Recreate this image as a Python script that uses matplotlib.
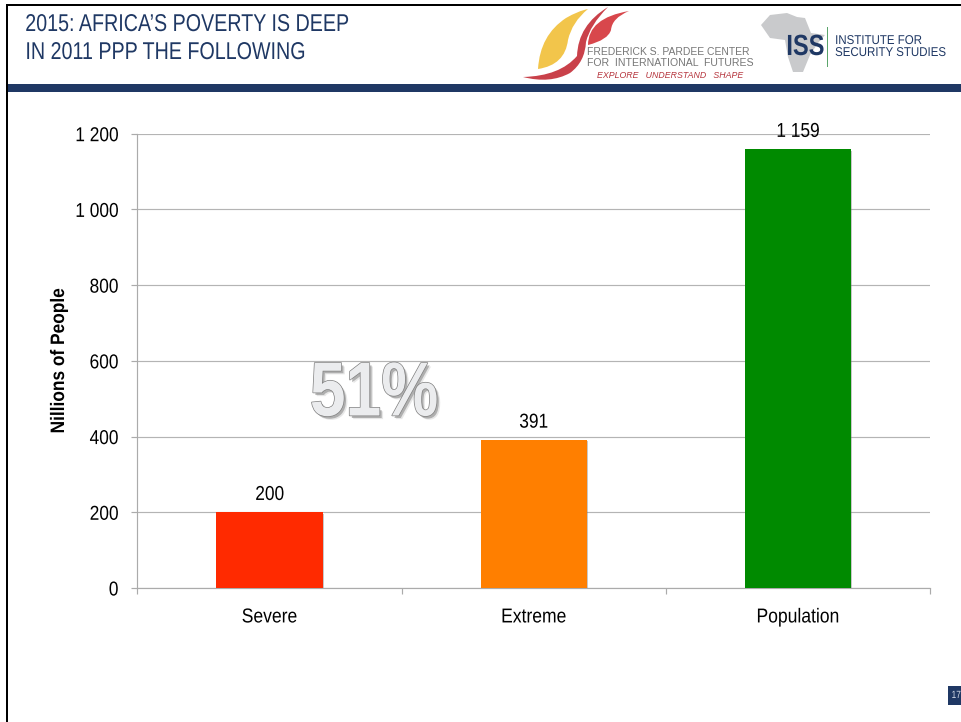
import matplotlib
matplotlib.use("Agg")
import matplotlib.pyplot as plt
import matplotlib.patheffects as pe
from matplotlib.path import Path
from matplotlib.patches import PathPatch, Polygon, Rectangle
from matplotlib.transforms import Affine2D

categories = ["Severe", "Extreme", "Population"]
values = [200, 391, 1159]
value_labels = ["200", "391", "1 159"]
bar_colors = ["#FF2A00", "#FF7F00", "#008A00"]
y_ticks = [0, 200, 400, 600, 800, 1000, 1200]
y_tick_labels = ["0", "200", "400", "600", "800", "1 000", "1 200"]

W, H = 962, 722
NAVY = "#1F3864"
SANS = ["Liberation Sans", "DejaVu Sans"]


class Condensed(pe.AbstractPathEffect):
    """Narrow a text's outline around its left, centre or right edge, along x or y."""

    def __init__(self, factor, align="center", inner=None, vertical=False):
        super().__init__()
        self.factor = factor
        self.align = align
        self.inner = inner or [pe.Normal()]
        self.vertical = vertical

    def draw_path(self, renderer, gc, tpath, affine, rgbFace=None):
        box = tpath.get_extents(affine)
        if self.vertical:
            anchor = (box.y0 + box.y1) / 2
            squeeze = Affine2D().translate(0, -anchor).scale(1, self.factor).translate(0, anchor)
        else:
            anchor = {"left": box.x0, "center": (box.x0 + box.x1) / 2, "right": box.x1}[self.align]
            squeeze = Affine2D().translate(-anchor, 0).scale(self.factor, 1).translate(anchor, 0)
        narrowed = affine + squeeze
        for effect in self.inner:
            effect.draw_path(renderer, gc, tpath, narrowed, rgbFace)


fig = plt.figure(figsize=(W / 100, H / 100), dpi=100, facecolor="white")

# Slide furniture, laid out in pixel units
slide = fig.add_axes([0, 0, 1, 1], zorder=0)
slide.set_xlim(0, W)
slide.set_ylim(H, 0)
slide.axis("off")

slide.add_patch(Rectangle((6, 4), W - 6, 2, fc="black", ec="none"))
slide.add_patch(Rectangle((6, 4), 2, H - 4, fc="black", ec="none"))
slide.add_patch(Rectangle((8, 84), W - 8, 8, fc=NAVY, ec="none"))

for y, line in [(25, "2015: AFRICA\u2019S POVERTY IS DEEP"), (53, "IN 2011 PPP THE FOLLOWING")]:
    slide.text(25, y, line, family=SANS, fontsize=17.5, color=NAVY, va="center", ha="left",
               path_effects=[Condensed(0.81, "left")])


# Pardee Center emblem
def leaf(points, color):
    codes = [Path.MOVETO] + [Path.CURVE3] * (len(points) - 1)
    slide.add_patch(PathPatch(Path(points, codes), fc=color, ec="none"))


leaf([(538, 69), (540, 35), (566, 18), (578, 11), (588, 9), (572, 22), (568, 40),
     (565, 65), (538, 69)], "#F2C54B")
leaf([(523, 77), (560, 76), (577, 56), (578, 25), (608, 7), (590, 25), (586, 42),
     (585, 62), (570, 73), (550, 84), (523, 77)], "#C9414A")
leaf([(588, 45), (588, 18), (629, 11), (612, 18), (611, 30), (608, 40), (588, 45)], "#D8474C")

slide.text(587, 52, "FREDERICK S. PARDEE CENTER", family=SANS, fontsize=7.5,
           color="#777777", va="center", ha="left")
slide.text(587, 63, "FOR  INTERNATIONAL  FUTURES", family=SANS, fontsize=7.6,
           color="#777777", va="center", ha="left")
slide.text(597, 76, "EXPLORE   UNDERSTAND   SHAPE", family=SANS, fontsize=6.3,
           style="italic", color="#B5333B", va="center", ha="left")

# ISS emblem
slide.add_patch(Polygon([(761, 25), (770, 15), (787, 13), (797, 17), (805, 18),
                         (811, 33), (825, 35), (818, 43), (810, 55), (803, 72),
                         (793, 72), (788, 57), (785, 40), (770, 38)],
                        closed=True, fc="#C9CACC", ec="none"))
slide.text(786, 47, "ISS", family=SANS, fontsize=21, weight="bold", color=NAVY,
           va="center", ha="left", path_effects=[Condensed(0.81, "left")])
slide.add_patch(Rectangle((827.2, 27), 1.2, 40, fc="#5BA56B", ec="none"))
slide.text(835, 41, "INSTITUTE FOR", family=SANS, fontsize=9.2, color=NAVY,
           va="center", ha="left", path_effects=[Condensed(0.9, "left")])
slide.text(835, 53, "SECURITY STUDIES", family=SANS, fontsize=9.2, color=NAVY,
           va="center", ha="left", path_effects=[Condensed(0.9, "left")])

# Page number tag
slide.add_patch(Rectangle((948, 686), 14, 19, fc=NAVY, ec="none"))
slide.text(961, 695, "17", family=SANS, fontsize=7.5, color="#D5DCE8",
           va="center", ha="right", path_effects=[Condensed(0.8, "right")])

# Bar chart
left, right, top, bottom = 137.5, 930, 133.7, 588
ax = fig.add_axes([left / W, 1 - bottom / H, (right - left) / W, (bottom - top) / H],
                  zorder=1)
ax.patch.set_alpha(0)

positions = list(range(len(categories)))
ax.bar(positions, values, width=0.402, color=bar_colors, zorder=3,
       path_effects=[pe.SimplePatchShadow(offset=(0.8, -1), shadow_rgbFace="#777777",
                                          alpha=0.4), pe.Normal()])
ax.set_xlim(-0.5, 2.5)
ax.set_ylim(0, 1200)

ax.set_yticks(y_ticks)
ax.set_yticklabels(y_tick_labels, family=SANS, fontsize=14.5, color="black")
ax.set_xticks(positions)
ax.set_xticklabels(categories, family=SANS, fontsize=14.5, color="black")
ax.set_xticks([-0.5, 0.5, 1.5, 2.5], minor=True)
ax.tick_params(axis="x", which="major", length=0, pad=14)
ax.tick_params(axis="x", which="minor", length=4.3, width=0.85, color="#ABABAB")
ax.tick_params(axis="y", which="major", length=4.3, width=0.85, color="#ABABAB", pad=9.4)

for label in ax.get_yticklabels():
    label.set_path_effects([Condensed(0.86, "right")])
for label in ax.get_xticklabels():
    label.set_path_effects([Condensed(0.87, "center")])

ax.yaxis.grid(True, color="#B4B4B4", linewidth=0.85, zorder=1)
ax.xaxis.grid(False)
for name in ("top", "right"):
    ax.spines[name].set_visible(False)
for name in ("left", "bottom"):
    ax.spines[name].set_color("#ABABAB")
    ax.spines[name].set_linewidth(0.85)

ax.set_ylabel("Nillions of People", family=SANS, fontsize=14, weight="bold",
              path_effects=[Condensed(0.89, vertical=True)])
ax.yaxis.set_label_coords((68 - left) / (right - left), 0.5)

for x, v, label in zip(positions, values, value_labels):
    ax.annotate(label, (x, v), xytext=(0, 6), textcoords="offset points", ha="center",
                va="bottom", family=SANS, fontsize=14.5, color="black", zorder=4,
                annotation_clip=False, path_effects=[Condensed(0.86, "center")])

# Share of the extreme-poverty bar, set as outlined display type
share = ax.text(374, 396, "51%", transform=slide.transData, family=SANS, weight="bold",
                fontsize=55, color="#EBECEE", ha="center", va="center", zorder=5)
share.set_path_effects([Condensed(0.84, "center", inner=[
    pe.SimplePatchShadow(offset=(2.6, -2.6), shadow_rgbFace="#BBBBBB", alpha=0.35),
    pe.SimplePatchShadow(offset=(1.6, -1.8), shadow_rgbFace="#8A8A8A", alpha=0.6),
    pe.Stroke(linewidth=1.0, foreground="#7F7F7F"),
    pe.Normal(),
])])

fig.savefig("out.png", dpi=100, facecolor="white")
